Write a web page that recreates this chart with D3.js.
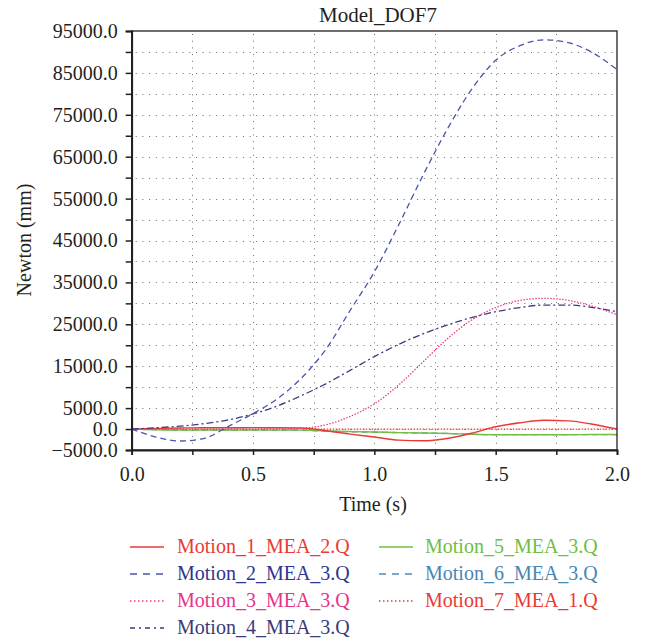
<!DOCTYPE html>
<html>
<head>
<meta charset="utf-8">
<script src="https://cdn.jsdelivr.net/npm/d3@7/dist/d3.min.js"></script>
<style>
  html, body { margin: 0; padding: 0; background: #fff; }
  svg { display: block; }
  text { font-family: "Liberation Serif", "Times New Roman", serif; fill: #231f20; }
</style>
</head>
<body>
<svg id="chart" width="646" height="641"></svg>
<script>
// Sample times (s)
const time = [0, 0.1, 0.2, 0.3, 0.4, 0.5, 0.6, 0.7, 0.8, 0.9, 1.0,
              1.1, 1.2, 1.3, 1.4, 1.5, 1.6, 1.7, 1.8, 1.9, 2.0];

// Measured values per motion channel
const motion1 = [0, 150, 250, 300, 300, 350, 300, 250, -400, -1200, -1900,
                 -2650, -2800, -2250, -1000, 550, 1500, 2100, 1950, 1150, 0];
const motion2 = [0, -1900, -2850, -2200, 700, 3700, 7200, 12200, 19000, 28300, 37500,
                 48700, 60500, 71500, 81000, 88000, 91500, 92900, 92200, 89800, 85800];
const motion3 = [0, -100, -100, -100, -50, 0, 50, 200, 1000, 3000, 6000,
                 10500, 16000, 21500, 26000, 29000, 30700, 31200, 30700, 29300, 27300];
const motion4 = [0, 300, 700, 1300, 2200, 3600, 5500, 8000, 10800, 14000, 17300,
                 20200, 22700, 24800, 26600, 28000, 29000, 29600, 29600, 29000, 28000];
const motion5 = [0, -150, -250, -250, -250, -250, -250, -250, -450, -600, -700,
                 -850, -950, -1050, -1250, -1350, -1350, -1350, -1350, -1300, -1300];
const motion6 = [0, -150, -250, -250, -250, -250, -250, -300, -500, -650, -750,
                 -850, -950, -1050, -1250, -1350, -1350, -1350, -1350, -1350, -1350];
const motion7 = [0, 0, 0, 0, 0, 0, 0, 0, 0, 0, 0,
                 0, 0, 0, 0, 0, 0, 0, 0, 0, 0];

const seriesNames = ["Motion_1_MEA_2.Q", "Motion_2_MEA_3.Q", "Motion_3_MEA_3.Q",
                     "Motion_4_MEA_3.Q", "Motion_5_MEA_3.Q", "Motion_6_MEA_3.Q",
                     "Motion_7_MEA_1.Q"];
const seriesValues = [motion1, motion2, motion3, motion4, motion5, motion6, motion7];

// Axis ticks
const xTicks = [0, 0.25, 0.5, 0.75, 1.0, 1.25, 1.5, 1.75, 2.0];
const xTickLabels = ["0.0", "", "0.5", "", "1.0", "", "1.5", "", "2.0"];
const yTicks = [-5000, 0, 5000, 10000, 15000, 20000, 25000, 30000, 35000, 40000, 45000,
                50000, 55000, 60000, 65000, 70000, 75000, 80000, 85000, 90000, 95000];
const yTickLabels = ["\u22125000.0", "0.0", "5000.0", "", "15000.0", "", "25000.0", "", "35000.0", "",
                     "45000.0", "", "55000.0", "", "65000.0", "", "75000.0", "", "85000.0", "", "95000.0"];

const chartTitle = "Model_DOF7";
const xTitle = "Time (s)";
const yTitle = "Newton (mm)";

// Line styles per channel (plot dash, legend dash)
const styles = [
  { color: "#ea3a35", text: "#ea3a35", dash: null,      legendDash: null,          width: 1.4 },
  { color: "#4856a8", text: "#2f3590", dash: "6,4",     legendDash: "7,6",         width: 1.3 },
  { color: "#ec3d8e", text: "#e8338a", dash: "1.5,1.5", legendDash: "1.5,2.5",     width: 1.3 },
  { color: "#3d3b7e", text: "#3b3a78", dash: "7,3,2,3", legendDash: "5,4,2,4",     width: 1.3 },
  { color: "#72bf44", text: "#6fbe45", dash: null,      legendDash: null,          width: 1.4 },
  { color: "#4f8cb8", text: "#4a86b3", dash: "6,4",     legendDash: "7,6",         width: 1.3 },
  { color: "#e83b3b", text: "#ea3a35", dash: "1.5,1.5", legendDash: "1.5,2.5",     width: 1.3 }
];

const svg = d3.select("#chart");
const plotLeft = 131.7, plotRight = 617, plotTop = 31, plotBottom = 450;

const x = d3.scaleLinear().domain([0, 2]).range([plotLeft, plotRight]);
const y = d3.scaleLinear().domain([-5000, 95000]).range([plotBottom, plotTop]);

// Dotted grid
const grid = svg.append("g").attr("stroke", "#6a6a6a").attr("stroke-width", 1)
  .attr("stroke-dasharray", "1,5.7");
grid.selectAll("line.h").data(yTicks.filter(v => v > -5000 && v < 95000)).join("line")
  .attr("class", "h")
  .attr("x1", plotLeft + 4).attr("x2", plotRight)
  .attr("y1", d => Math.round(y(d)) + 0.5).attr("y2", d => Math.round(y(d)) + 0.5);
grid.selectAll("line.v").data(xTicks.filter(v => v > 0 && v < 2)).join("line")
  .attr("class", "v")
  .attr("y1", plotTop + 3).attr("y2", plotBottom)
  .attr("x1", d => Math.round(x(d)) + 0.5).attr("x2", d => Math.round(x(d)) + 0.5);

// Data lines
svg.append("clipPath").attr("id", "plotClip").append("rect")
  .attr("x", plotLeft).attr("y", plotTop)
  .attr("width", plotRight - plotLeft).attr("height", plotBottom - plotTop);

const line = d3.line().x((d, i) => x(time[i])).y(d => y(d)).curve(d3.curveMonotoneX);
const drawOrder = [6, 5, 4, 0, 2, 3, 1];
const plot = svg.append("g").attr("clip-path", "url(#plotClip)");
drawOrder.forEach(k => {
  plot.append("path")
    .datum(seriesValues[k])
    .attr("fill", "none")
    .attr("stroke", styles[k].color)
    .attr("stroke-width", styles[k].width)
    .attr("stroke-dasharray", styles[k].dash)
    .attr("d", line);
});

// Frame
svg.append("rect").attr("x", plotLeft).attr("y", plotTop)
  .attr("width", plotRight - plotLeft).attr("height", plotBottom - plotTop)
  .attr("fill", "none").attr("stroke", "#231f20").attr("stroke-width", 1.3);

// Axes
const yAxis = d3.axisLeft(y).tickValues(yTicks)
  .tickFormat((d, i) => yTickLabels[i]).tickSize(6).tickPadding(8);
const gy = svg.append("g").attr("transform", `translate(${plotLeft},0)`).call(yAxis);
gy.select(".domain").attr("stroke", "#231f20").attr("stroke-width", 1.8);
gy.selectAll(".tick line").attr("stroke", "#231f20").attr("stroke-width", 1.5);
gy.selectAll(".tick text").style("font-size", "20px").attr("fill", "#231f20")
  .style("font-family", '"Liberation Serif", serif');

const xAxis = d3.axisBottom(x).tickValues(xTicks)
  .tickFormat((d, i) => xTickLabels[i]).tickSize(5).tickPadding(12);
const gx = svg.append("g").attr("transform", `translate(0,${plotBottom})`).call(xAxis);
gx.select(".domain").attr("stroke", "#231f20").attr("stroke-width", 1.8);
gx.selectAll(".tick line").attr("stroke", "#231f20").attr("stroke-width", 1.5);
gx.selectAll(".tick text").style("font-size", "20px").attr("fill", "#231f20")
  .style("font-family", '"Liberation Serif", serif');

// Titles
svg.append("text").attr("x", 378).attr("y", 22).attr("text-anchor", "middle")
  .style("font-size", "21px").text(chartTitle);
svg.append("text").attr("x", 373).attr("y", 511).attr("text-anchor", "middle")
  .style("font-size", "20px").text(xTitle);
svg.append("text").attr("transform", "translate(31,240) rotate(-90)")
  .attr("text-anchor", "middle").style("font-size", "20px").text(yTitle);

// Legend: two columns
const legendPos = [
  { lx: 130, tx: 177, row: 0 }, { lx: 130, tx: 177, row: 1 },
  { lx: 130, tx: 177, row: 2 }, { lx: 130, tx: 177, row: 3 },
  { lx: 379, tx: 425, row: 0 }, { lx: 379, tx: 425, row: 1 },
  { lx: 379, tx: 425, row: 2 }
];
const legend = svg.append("g");
seriesNames.forEach((name, k) => {
  const p = legendPos[k];
  const baseY = 553 + p.row * 27;
  legend.append("line")
    .attr("x1", p.lx).attr("x2", p.lx + 34)
    .attr("y1", baseY - 6).attr("y2", baseY - 6)
    .attr("stroke", styles[k].color).attr("stroke-width", 1.6)
    .attr("stroke-dasharray", styles[k].legendDash);
  legend.append("text").attr("x", p.tx).attr("y", baseY)
    .style("font-size", "20px").style("fill", styles[k].text).text(name);
});
</script>
</body>
</html>
